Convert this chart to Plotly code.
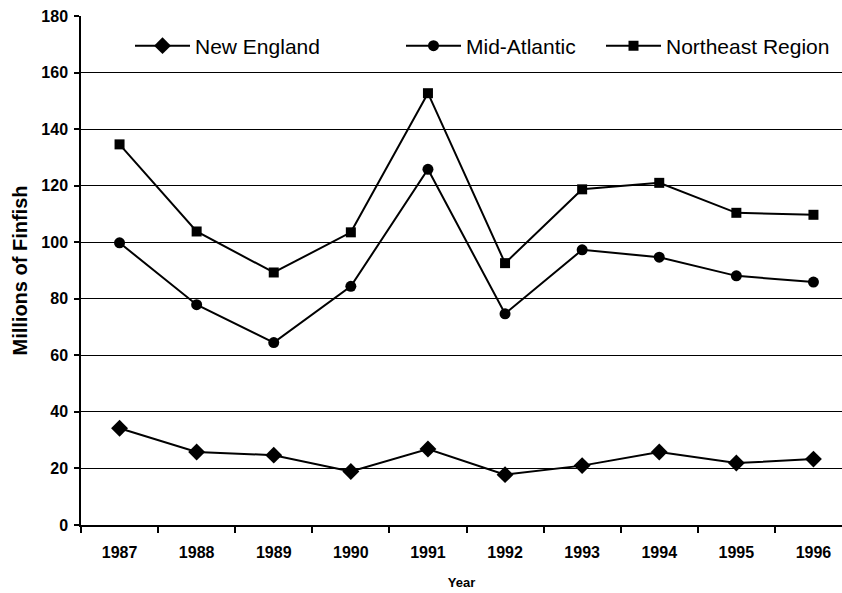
import plotly.graph_objects as go

years = [1987, 1988, 1989, 1990, 1991, 1992, 1993, 1994, 1995, 1996]
new_england = [34.2, 25.8, 24.7, 18.9, 26.9, 17.8, 21.0, 25.8, 21.9, 23.3]
mid_atlantic = [99.8, 77.9, 64.5, 84.4, 125.8, 74.7, 97.3, 94.7, 88.1, 85.9]
northeast = [134.6, 103.8, 89.3, 103.5, 152.7, 92.6, 118.7, 121.0, 110.4, 109.7]
y_ticks = [0, 20, 40, 60, 80, 100, 120, 140, 160, 180]

W, H = 842, 593
L, R, T, B = 81, 0, 16, 68
plot_w = W - L - R
cat_px = 77.1
x_lo = years[0] - 0.5
x_hi = x_lo + plot_w / cat_px

fig = go.Figure()
series = [
    ("New England", new_england, "diamond", 13, "legend"),
    ("Mid-Atlantic", mid_atlantic, "circle", 11, "legend2"),
    ("Northeast Region", northeast, "square", 10, "legend3"),
]
for name, vals, sym, sz, lg in series:
    fig.add_trace(go.Scatter(
        x=years, y=vals, name=name, mode="lines+markers",
        line=dict(color="black", width=2),
        marker=dict(symbol=sym, size=sz, color="black"),
        legend=lg,
    ))

def px2paper(px):
    return (px - L) / plot_w

leg_common = dict(orientation="h", yanchor="middle", xanchor="left",
                  bgcolor="rgba(0,0,0,0)", borderwidth=0,
                  font=dict(family="Liberation Sans, Arial", size=21, color="black"),
                  itemwidth=55)
y_leg = 1 - (46 - T) / (H - T - B)
fig.update_layout(
    width=W, height=H,
    margin=dict(l=L, r=R, t=T, b=B),
    paper_bgcolor="white", plot_bgcolor="white",
    font=dict(family="Liberation Sans, Arial", color="black"),
    legend=dict(x=px2paper(130), y=y_leg, **leg_common),
    legend2=dict(x=px2paper(401), y=y_leg, **leg_common),
    legend3=dict(x=px2paper(601), y=y_leg, **leg_common),
    showlegend=True,
)
fig.update_xaxes(
    range=[x_lo, x_hi], tickvals=years, ticktext=[str(y) for y in years],
    ticks="", showgrid=False, showline=True, linecolor="black", linewidth=1.5,
    zeroline=False, automargin=False,
    tickfont=dict(family="Liberation Sans, Arial", size=16, color="black", weight="bold"),
    ticklabelstandoff=12,
    minor=dict(tickvals=[y - 0.5 for y in years] + [years[-1] + 0.5], ticks="outside",
               ticklen=6, tickwidth=1.5, tickcolor="black", showgrid=False),
    title=dict(text="<b>Year</b>", font=dict(size=13, color="black"), standoff=18),
)
fig.update_yaxes(
    range=[0, 180], tickvals=y_ticks, ticks="outside", ticklen=5, tickwidth=1.5,
    tickcolor="black", showgrid=True, gridcolor="black", gridwidth=1.3,
    showline=True, linecolor="black", linewidth=1.5, zeroline=False, automargin=False,
    tickfont=dict(family="Liberation Sans, Arial", size=16, color="black", weight="bold"),
    ticklabelstandoff=3,
    title=dict(text="<b>Millions of Finfish</b>", font=dict(size=20, color="black"), standoff=8),
)
fig.write_html("out.html", config={"displayModeBar": False},
               post_script="document.body.style.margin='0px';")
